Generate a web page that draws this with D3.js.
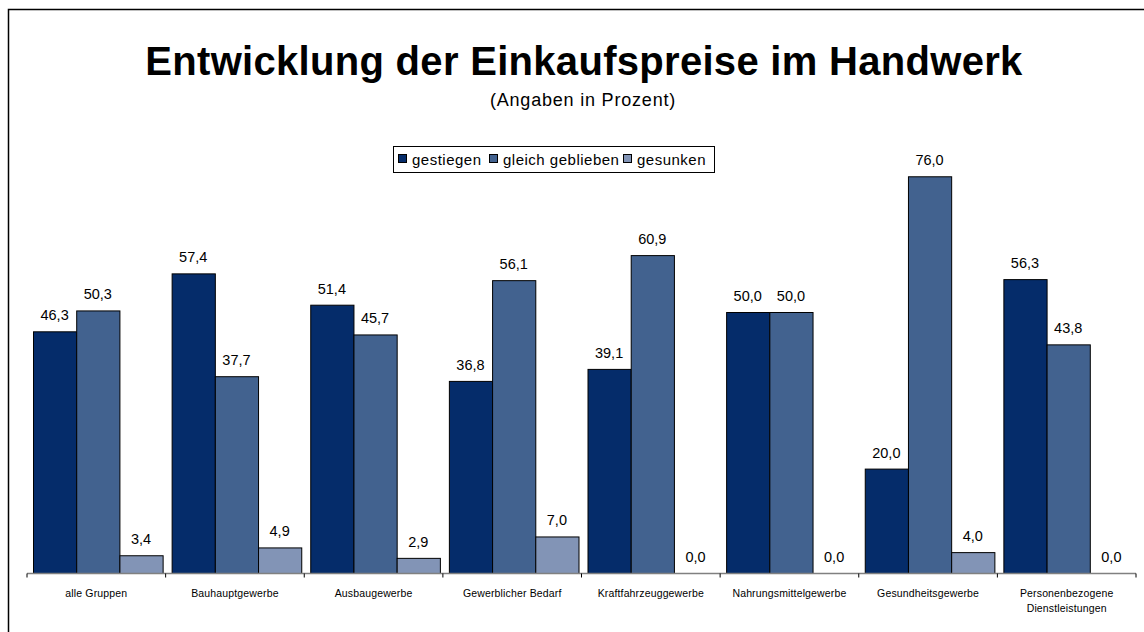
<!DOCTYPE html>
<html>
<head>
<meta charset="utf-8">
<script src="https://cdn.jsdelivr.net/npm/d3@7"></script>
<style>
  body { margin: 0; background: #fff; }
  svg { display: block; font-family: Arial, "Liberation Sans", sans-serif; }
</style>
</head>
<body>
<div id="chart"></div>
<script>
// data
const categories = [
    ["alle Gruppen"],
    ["Bauhauptgewerbe"],
    ["Ausbaugewerbe"],
    ["Gewerblicher Bedarf"],
    ["Kraftfahrzeuggewerbe"],
    ["Nahrungsmittelgewerbe"],
    ["Gesundheitsgewerbe"],
    ["Personenbezogene", "Dienstleistungen"]
];
const seriesNames = ["gestiegen", "gleich geblieben", "gesunken"];
const gestiegen = [46.3, 57.4, 51.4, 36.8, 39.1, 50.0, 20.0, 56.3];
const gleichGeblieben = [50.3, 37.7, 45.7, 56.1, 60.9, 50.0, 76.0, 43.8];
const gesunken = [3.4, 4.9, 2.9, 7.0, 0.0, 0.0, 4.0, 0.0];
const colors = ["#052c6a", "#42628f", "#8294b6"];

const width = 1144, height = 632;
const margin = { top: 100, right: 8, bottom: 59, left: 27 };

const svg = d3.select("#chart").append("svg")
    .attr("width", width)
    .attr("height", height);

// outer frame (runs off the right and bottom edges)
svg.append("rect")
    .attr("x", 8.5).attr("y", 9.5)
    .attr("width", width + 10).attr("height", height + 10)
    .attr("fill", "none").attr("stroke", "#000").attr("stroke-width", 1.5);

svg.append("text")
    .attr("x", 584).attr("y", 75)
    .attr("text-anchor", "middle")
    .style("font-size", "40px").style("font-weight", "bold")
    .style("letter-spacing", "0.3px")
    .text("Entwicklung der Einkaufspreise im Handwerk");

svg.append("text")
    .attr("x", 583).attr("y", 106)
    .attr("text-anchor", "middle")
    .style("font-size", "18px")
    .style("letter-spacing", "0.8px")
    .text("(Angaben in Prozent)");

const plotBottom = height - margin.bottom; // baseline y ~ 573
const x0 = d3.scaleBand()
    .domain(d3.range(categories.length))
    .range([margin.left, width - margin.right]);
const x1 = d3.scaleBand()
    .domain(d3.range(seriesNames.length))
    .range([6, x0.bandwidth() - 3]);
const y = d3.scaleLinear()
    .domain([0, 100])
    .range([plotBottom, plotBottom - 522]);

const values = [gestiegen, gleichGeblieben, gesunken];

const groups = svg.append("g").selectAll("g")
    .data(categories)
    .join("g")
    .attr("transform", (d, i) => `translate(${x0(i)},0)`);

groups.each(function (cat, i) {
    const g = d3.select(this);
    seriesNames.forEach((s, k) => {
        const v = values[k][i];
        if (v > 0) {
            g.append("rect")
                .attr("x", x1(k) + 0.5)
                .attr("y", y(v) + 0.5)
                .attr("width", x1.bandwidth())
                .attr("height", y(0) - y(v))
                .attr("fill", colors[k])
                .attr("stroke", "#000")
                .attr("stroke-width", 1);
        }
        g.append("text")
            .attr("x", x1(k) + x1.bandwidth() / 2)
            .attr("y", y(v) - 11)
            .attr("text-anchor", "middle")
            .style("font-size", "14.5px")
            .text(d3.format(".1f")(v).replace(".", ","));
    });
});

// category axis
const axis = svg.append("g")
    .attr("transform", `translate(0,${plotBottom + 0.5})`);
axis.append("line")
    .attr("x1", margin.left).attr("x2", width - margin.right)
    .attr("stroke", "#808080").attr("stroke-width", 1.5);
axis.selectAll(".tick")
    .data(d3.range(categories.length + 1))
    .join("line")
    .attr("x1", i => i < categories.length ? x0(i) : x0(i - 1) + x0.bandwidth())
    .attr("x2", i => i < categories.length ? x0(i) : x0(i - 1) + x0.bandwidth())
    .attr("y1", 0).attr("y2", 4)
    .attr("stroke", "#000");

const catLabels = axis.selectAll(".cat")
    .data(categories)
    .join("text")
    .attr("x", (d, i) => x0(i) + x0.bandwidth() / 2)
    .attr("y", 23)
    .attr("text-anchor", "middle")
    .style("font-size", "10.5px")
    .style("letter-spacing", "0.15px");
catLabels.selectAll("tspan")
    .data(d => d)
    .join("tspan")
    .attr("x", function () { return d3.select(this.parentNode).attr("x"); })
    .attr("dy", (d, j) => j === 0 ? 0 : 15)
    .text(d => d);

// legend
const legend = svg.append("g");
legend.append("rect")
    .attr("x", 393.5).attr("y", 146.5)
    .attr("width", 321).attr("height", 26)
    .attr("fill", "#fff").attr("stroke", "#000");
const legendX = [398, 489, 623];
seriesNames.forEach((s, k) => {
    legend.append("rect")
        .attr("x", legendX[k] + 0.5).attr("y", 154.5)
        .attr("width", 8).attr("height", 8)
        .attr("fill", colors[k]).attr("stroke", "#000");
    legend.append("text")
        .attr("x", legendX[k] + 14).attr("y", 165)
        .style("font-size", "15px")
        .style("letter-spacing", "0.5px")
        .text(s);
});
</script>
</body>
</html>
